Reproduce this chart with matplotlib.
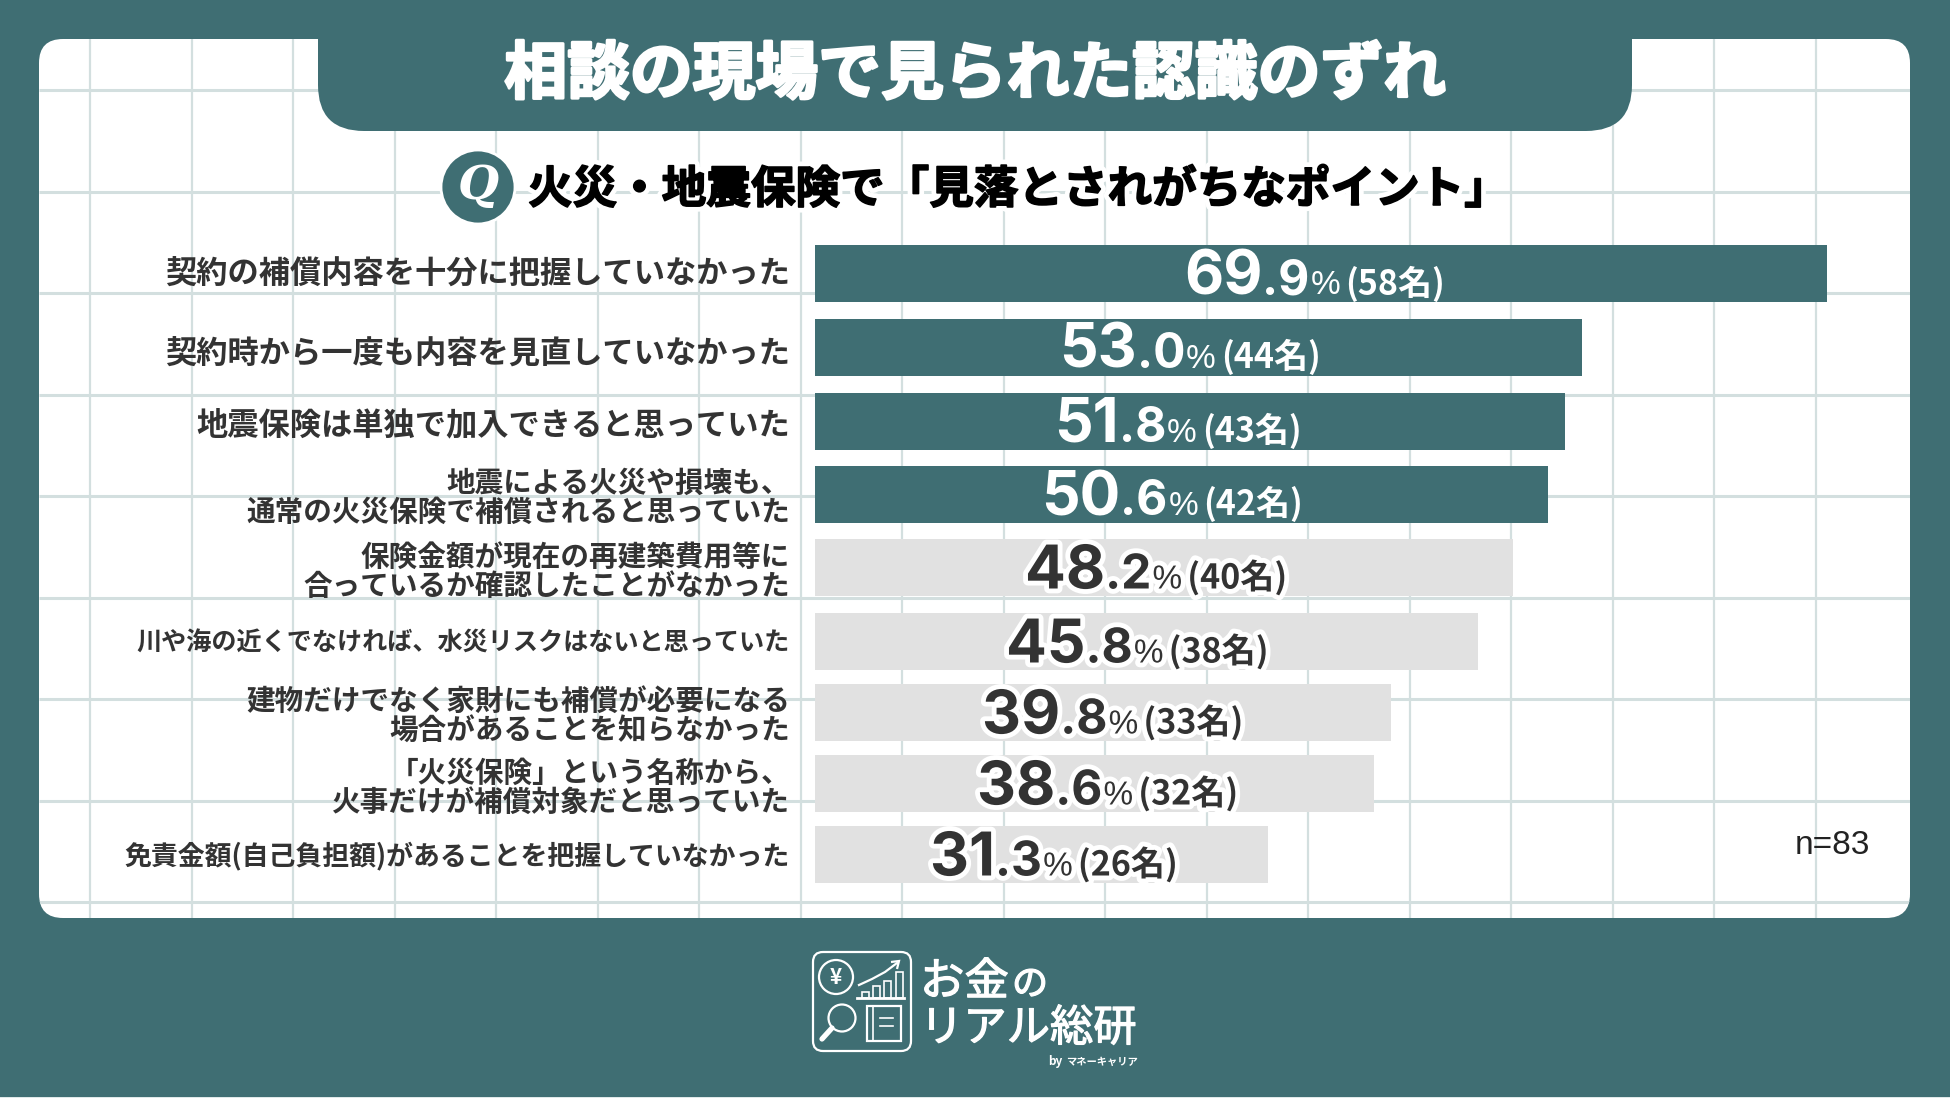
import matplotlib
matplotlib.use("Agg")
import matplotlib.pyplot as plt
import matplotlib.patheffects as pe
from matplotlib.patches import FancyBboxPatch, Circle, Rectangle, Polygon
import numpy as np

plt.rcParams['font.family'] = ['Noto Sans CJK JP', 'DejaVu Sans']

# data
categories = [
    "契約の補償内容を十分に把握していなかった",
    "契約時から一度も内容を見直していなかった",
    "地震保険は単独で加入できると思っていた",
    "地震による火災や損壊も、\n通常の火災保険で補償されると思っていた",
    "保険金額が現在の再建築費用等に\n合っているか確認したことがなかった",
    "川や海の近くでなければ、水災リスクはないと思っていた",
    "建物だけでなく家財にも補償が必要になる\n場合があることを知らなかった",
    "「火災保険」という名称から、\n火事だけが補償対象だと思っていた",
    "免責金額(自己負担額)があることを把握していなかった",
]
percents = [69.9, 53.0, 51.8, 50.6, 48.2, 45.8, 39.8, 38.6, 31.3]
counts = [58, 44, 43, 42, 40, 38, 33, 32, 26]
n_highlight = 4

title = "相談の現場で見られた認識のずれ"
question = "火災・地震保険で「見落とされがちなポイント」"

# layout, in pixels of the 1950x1098 picture
row_y = [273.5, 347, 421, 494, 567.5, 641.5, 712.5, 783.5, 854.5]
label_y = [274, 354, 425, 497, 571, 643, 715, 787, 856]
label_size = [22.5, 22.5, 22.5, 20.6, 20.6, 18.1, 20.6, 20.6, 19.4]
label_left = [1184, 1059, 1054, 1041, 1025, 1006, 982, 977, 930]

TEAL = "#3f6e73"
GRID = "#d3dfdf"
GRAY = "#e1e1e1"
DARK = "#333333"

fig = plt.figure(figsize=(19.5, 10.98), dpi=100, facecolor=TEAL)

# background axes works in pixels
ax = fig.add_axes([0, 0, 1, 1])
ax.set_xlim(0, 1950)
ax.set_ylim(1098, 0)
ax.axis("off")

card = FancyBboxPatch((39, 39), 1871, 879, boxstyle="round,pad=0,rounding_size=24",
                      fc="white", ec="none", zorder=1)
ax.add_patch(card)
grid_pos = 90 + 101.5 * np.arange(18)
vl = ax.vlines(grid_pos, 39, 918, color=GRID, lw=1.6, zorder=2)
hl = ax.hlines(grid_pos[:9], 39, 1910, color=GRID, lw=2.2, zorder=2)
vl.set_clip_path(card)
hl.set_clip_path(card)

# title tab
tab = FancyBboxPatch((318, -80), 1314, 211, boxstyle="round,pad=0,rounding_size=46",
                     fc=TEAL, ec="none", zorder=3)
ax.add_patch(tab)
ax.text(975, 75, title, color="white", fontsize=45.2, fontweight="bold", ha="center",
        va="center", zorder=4, path_effects=[pe.withStroke(linewidth=2, foreground="white")])

# question line
ax.add_patch(Circle((478, 187), 37, fc=TEAL, ec="white", lw=2, zorder=4))
ax.text(478, 186, "Q", color="white", fontsize=34, fontweight="bold", fontstyle="italic",
        family="DejaVu Serif", ha="center", va="center", zorder=5)
ax.text(528, 190, question, color="black", fontsize=32.1, fontweight="bold", ha="left",
        va="center", zorder=4,
        path_effects=[pe.Stroke(linewidth=8, foreground="white"),
                      pe.Stroke(linewidth=1.2, foreground="black"), pe.Normal()])

# bars, scaled by percent
ax_bars = fig.add_axes([815 / 1950, 0, 1012 / 1950, 1], zorder=2)
ax_bars.patch.set_alpha(0)
ax_bars.set_xlim(0, 69.9)
ax_bars.set_ylim(1098, 0)
ax_bars.axis("off")
colors = [TEAL] * n_highlight + [GRAY] * (len(percents) - n_highlight)
ax_bars.barh(row_y, percents, height=57, color=colors)

# text on top of the bars
ax_top = fig.add_axes([0, 0, 1, 1], zorder=3)
ax_top.patch.set_alpha(0)
ax_top.set_xlim(0, 1950)
ax_top.set_ylim(1098, 0)
ax_top.axis("off")

for y, size, cat in zip(label_y, label_size, categories):
    ax_top.text(790, y, cat, ha="right", va="center", multialignment="right", fontsize=size,
                fontweight="bold", color=DARK, linespacing=0.96)

renderer = fig.canvas.get_renderer()
for i, (v, c) in enumerate(zip(percents, counts)):
    whole, frac = f"{v:.1f}".split(".")
    col = "white" if i < n_highlight else DARK
    fx = [] if i < n_highlight else [pe.withStroke(linewidth=7, foreground="white")]
    x = label_left[i]
    base = row_y[i] + 21
    parts = [(whole, 43.5, "bold", "Inter", 0), ("." + frac, 34.5, "bold", "Inter", 1),
             ("%", 24, "normal", "Liberation Sans", 5), (f"({c}名)", 24.5, "bold", "Noto Sans CJK JP", 0)]
    for s, size, weight, fam, gap in parts:
        t = ax_top.text(x, base, s, fontsize=size, fontweight=weight, color=col, va="baseline",
                        family=fam, path_effects=fx)
        x = t.get_window_extent(renderer).x1 + gap

ax_top.text(1870, 845, "n=83", fontsize=24, color="#222222", ha="right", va="center",
            family="Liberation Sans")

# logo, white line icons on the teal band
LW = 1.6
ax_top.add_patch(FancyBboxPatch((813, 952), 98, 99, boxstyle="round,pad=0,rounding_size=10",
                                fc="none", ec="white", lw=LW))
ax_top.add_patch(Circle((836, 977), 17, fc="none", ec="white", lw=LW))
ax_top.text(836, 978, "¥", color="white", fontsize=15, fontweight="bold", ha="center", va="center")
ax_top.plot([857, 904], [998, 998], color="white", lw=LW + 0.4)
for bx, bh in zip([862, 873, 884, 896], [6, 12, 17, 26]):
    ax_top.add_patch(Rectangle((bx, 998 - bh), 7, bh, fc="none", ec="white", lw=LW - 0.4))
ax_top.plot([859, 872, 885, 897], [985, 979, 972, 963], color="white", lw=LW)
ax_top.add_patch(Polygon([[891, 962], [899, 961], [897, 969]], closed=False, fc="none", ec="white", lw=LW))
ax_top.add_patch(Circle((842, 1018), 13.5, fc="none", ec="white", lw=LW))
ax_top.plot([832, 822], [1028, 1039], color="white", lw=LW + 2.2, solid_capstyle="round")
ax_top.add_patch(Rectangle((867, 1006), 34, 35, fc="none", ec="white", lw=LW))
ax_top.plot([873, 873], [1006, 1041], color="white", lw=LW - 0.4)
ax_top.plot([880, 893], [1018, 1018], color="white", lw=LW - 0.4)
ax_top.plot([880, 893], [1026, 1026], color="white", lw=LW - 0.4)

logo_fx = [pe.withStroke(linewidth=0.9, foreground="white")]
ax_top.text(920, 982, "お金", color="white", fontsize=32, ha="left", va="center", path_effects=logo_fx)
ax_top.text(1012, 985, "の", color="white", fontsize=26, ha="left", va="center", path_effects=logo_fx)
ax_top.text(920, 1029, "リアル総研", color="white", fontsize=31.2, ha="left", va="center", path_effects=logo_fx)
ax_top.text(1048, 1062, "by", color="white", fontsize=8.5, fontweight="bold", ha="left", va="center")
ax_top.text(1066, 1062, "マネーキャリア", color="white", fontsize=7.4, fontweight="bold", ha="left", va="center")

# pale last row of the picture
ax_top.add_patch(Rectangle((0, 1096.5), 1950, 2, fc="#dfe9e9", ec="none"))

fig.savefig("out.png", dpi=100, facecolor=TEAL)
